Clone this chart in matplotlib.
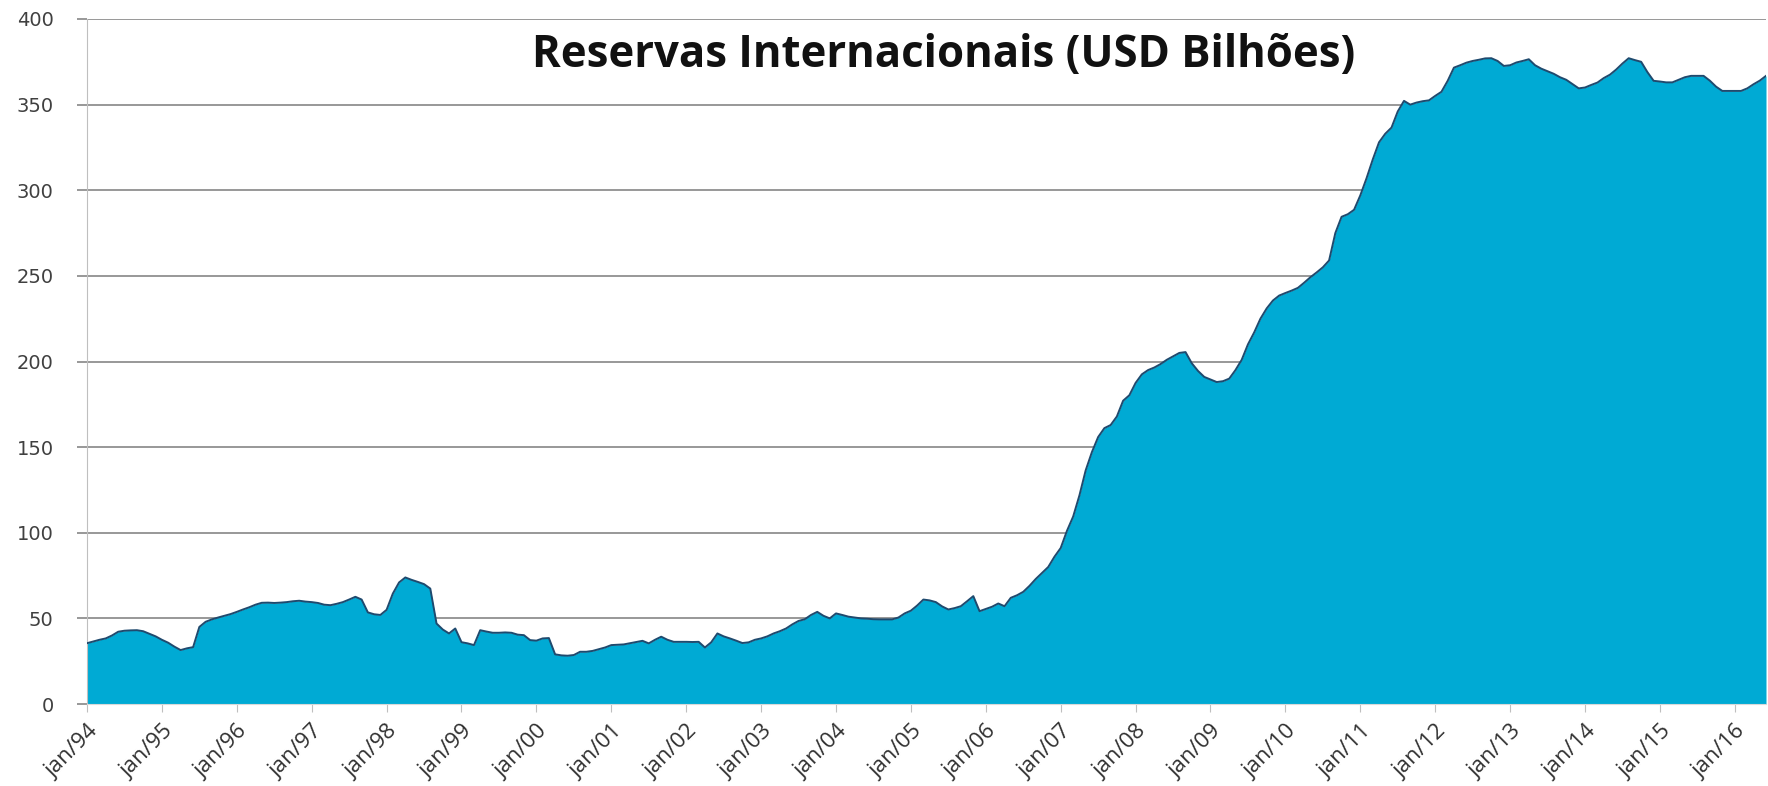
import numpy as np
import matplotlib.pyplot as plt

# Reservas internacionais, USD bilhões, mensal (jan/1994 - jun/2016)
r1994 = [35.5, 36.5, 37.5, 38.3, 40.0, 42.2, 42.8, 43.0, 43.1, 42.5, 41.0, 39.5]
r1995 = [37.5, 35.8, 33.5, 31.5, 32.5, 33.2, 45.0, 48.0, 49.4, 50.5, 51.5, 52.5]
r1996 = [53.8, 55.2, 56.5, 58.0, 59.1, 59.2, 59.0, 59.2, 59.5, 60.0, 60.3, 59.8]
r1997 = [59.5, 59.0, 58.0, 57.7, 58.5, 59.5, 61.0, 62.6, 61.0, 53.5, 52.4, 52.0]
r1998 = [55.0, 64.5, 71.0, 73.9, 72.5, 71.3, 70.0, 67.4, 47.0, 43.5, 41.2, 44.1]
r1999 = [36.1, 35.4, 34.4, 43.1, 42.3, 41.6, 41.6, 41.8, 41.6, 40.5, 40.2, 37.3]
r2000 = [37.0, 38.3, 38.5, 29.0, 28.4, 28.2, 28.6, 30.5, 30.5, 31.0, 32.0, 33.0]
r2001 = [34.4, 34.6, 34.8, 35.5, 36.2, 36.9, 35.4, 37.5, 39.3, 37.5, 36.3, 36.3]
r2002 = [36.3, 36.2, 36.3, 33.0, 36.0, 41.2, 39.5, 38.3, 37.0, 35.6, 36.0, 37.5]
r2003 = [38.3, 39.5, 41.2, 42.5, 44.1, 46.5, 48.5, 49.5, 52.0, 53.8, 51.5, 50.0]
r2004 = [52.9, 52.0, 51.0, 50.5, 50.0, 49.8, 49.5, 49.4, 49.4, 49.4, 50.5, 52.9]
r2005 = [54.5, 57.5, 61.0, 60.5, 59.5, 57.0, 55.2, 56.0, 57.1, 60.0, 63.0, 54.2]
r2006 = [55.5, 56.8, 58.7, 57.1, 62.0, 63.5, 65.5, 69.0, 73.0, 76.5, 80.0, 86.0]
r2007 = [91.1, 101.1, 109.5, 121.8, 136.4, 147.1, 155.9, 161.1, 162.9, 167.9, 177.1, 180.3]
r2008 = [187.5, 192.5, 195.0, 196.5, 198.5, 201.0, 203.0, 205.0, 205.5, 199.0, 194.5, 191.0]
r2009 = [189.5, 188.0, 188.5, 190.0, 195.0, 201.0, 210.0, 217.0, 225.0, 231.0, 235.6, 238.5]
r2010 = [240.0, 241.4, 243.0, 246.0, 249.2, 252.0, 255.0, 259.0, 275.0, 284.5, 286.0, 288.6]
r2011 = [297.0, 307.0, 318.0, 328.0, 333.0, 336.6, 346.0, 352.2, 350.0, 351.2, 352.0, 352.5]
r2012 = [355.1, 357.5, 363.9, 371.6, 373.0, 374.5, 375.5, 376.2, 377.0, 377.1, 375.5, 372.6]
r2013 = [373.0, 374.6, 375.5, 376.5, 373.0, 371.0, 369.5, 368.0, 366.0, 364.5, 362.0, 359.5]
r2014 = [360.0, 361.5, 362.9, 365.5, 367.5, 370.5, 374.0, 377.1, 376.0, 375.0, 369.0, 363.9]
r2015 = [363.5, 363.0, 363.0, 364.5, 366.0, 366.8, 366.8, 366.8, 364.0, 360.5, 358.0, 358.0]
r2016 = [358.0, 358.0, 359.5, 361.9, 364.0, 366.8]

years = list(range(1994, 2017))
reserves = (r1994 + r1995 + r1996 + r1997 + r1998 + r1999 + r2000 + r2001
            + r2002 + r2003 + r2004 + r2005 + r2006 + r2007 + r2008 + r2009
            + r2010 + r2011 + r2012 + r2013 + r2014 + r2015 + r2016)
tick_labels = ["jan/%02d" % (y % 100) for y in years]

x = np.arange(len(reserves))
tick_pos = np.arange(0, len(reserves), 12)

W, H = 1768, 786
fig = plt.figure(figsize=(W / 100, H / 100), dpi=100)
ax = fig.add_axes([87 / W, 1 - 704 / H, (1766 - 87) / W, (704 - 19) / H])

ax.fill_between(x, reserves, 0, color="#00AAD4", lw=0, zorder=2)
ax.plot(x, reserves, color="#1F4A6E", lw=1.4, zorder=3)

ax.set_xlim(0, len(reserves) - 1)
ax.set_ylim(0, 400)
ax.set_yticks(range(0, 401, 50))
ax.set_xticks(tick_pos)
ax.set_xticklabels(tick_labels, rotation=45, ha="right", rotation_mode="anchor",
                   fontsize=16, color="#303030", family="Open Sans")
for lbl in ax.get_yticklabels():
    lbl.set_family("DejaVu Sans")

ax.yaxis.grid(True, color="#868686", lw=1.2)
ax.set_axisbelow(True)

for side in ["top", "right"]:
    ax.spines[side].set_visible(False)
ax.spines["left"].set_color("#BFBFBF")
ax.spines["bottom"].set_color("#D9D9D9")

ax.tick_params(axis="y", length=7, color="#868686", width=1.2,
               labelsize=14, labelcolor="#404040", pad=17)
ax.tick_params(axis="x", length=6, color="#BFBFBF", pad=6)

ax.text(0.51, 0.947, "Reservas Internacionais (USD Bilhões)", transform=ax.transAxes,
        ha="center", va="center", fontsize=31.5, fontweight="bold",
        family="Open Sans", color="#111111")

fig.savefig("out.png", dpi=100)
